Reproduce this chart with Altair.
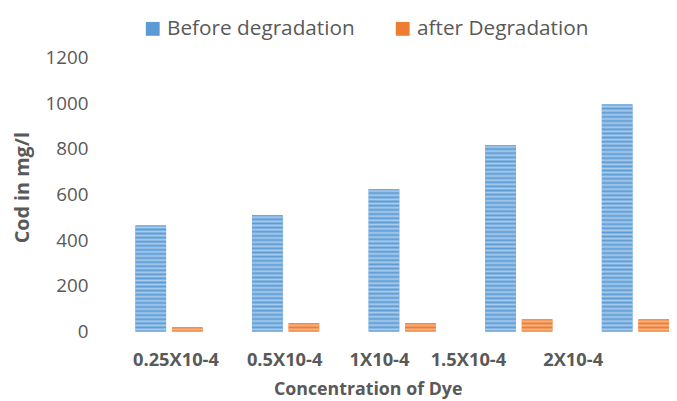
import altair as alt
import pandas as pd

categories = ["0.25X10-4", "0.5X10-4", "1X10-4", "1.5X10-4", "2X10-4"]
series_names = ["Before degradation", "after Degradation"]
before_vals = [465, 510, 625, 818, 995]
after_vals = [18, 36, 36, 53, 53]
label_offsets = [7, -1, -23, -51, -63]

rows = []
for c, b, a in zip(categories, before_vals, after_vals):
    rows.append({"cat": c, "series": series_names[0], "cod": b})
    rows.append({"cat": c, "series": series_names[1], "cod": a})
df = pd.DataFrame(rows)

BLUE, BLUE_L = "#5B9BD5", "#A9CCEC"
ORANGE, ORANGE_L = "#ED7D31", "#F6B488"
FONT = "Open Sans"
GREY = "#595959"
PX_PER_UNIT = 277 / 1200
PERIOD = 4.2


def stripes(dark, light, value):
    n = max(1, round(value * PX_PER_UNIT / PERIOD))
    stops = []
    for k in range(n):
        stops.append({"offset": k / n, "color": dark})
        stops.append({"offset": (k + 0.5) / n, "color": light})
    stops.append({"offset": 1, "color": dark})
    return {"gradient": "linear", "x1": 0, "y1": 0, "x2": 0, "y2": 1, "stops": stops}


offset_cond = [
    {"test": f"datum.value == '{c}'", "value": o}
    for c, o in zip(categories, label_offsets)
]

x_enc = alt.X(
    "cat:N",
    sort=categories,
    scale=alt.Scale(range=[0, 590], paddingInner=0, paddingOuter=0),
    axis=alt.Axis(
        title="Concentration of Dye",
        labelAngle=0,
        labelFont=FONT,
        labelFontSize=18.5,
        labelFontWeight="bold",
        labelColor=GREY,
        labelPadding=19,
        labelOffset={"condition": offset_cond, "value": 0},
        titleFont=FONT,
        titleFontSize=18,
        titleFontWeight="bold",
        titleColor=GREY,
        titleX=260,
        titleY=64,
        titleAlign="center",
        titleBaseline="alphabetic",
    ),
)
xo_enc = alt.XOffset(
    "series:N",
    sort=series_names,
    scale=alt.Scale(paddingInner=0.162, paddingOuter=0.676),
)
y_enc = alt.Y(
    "cod:Q",
    scale=alt.Scale(domain=[0, 1200]),
    axis=alt.Axis(
        title="Cod in mg/l",
        values=[0, 200, 400, 600, 800, 1000, 1200],
        format="d",
        labelFont=FONT,
        labelFontSize=19,
        labelColor=GREY,
        labelPadding=23,
        titleFont=FONT,
        titleFontSize=20,
        titleFontWeight="bold",
        titleColor=GREY,
        titleX=-83,
        titleY=131,
        titleAlign="center",
        titleBaseline="alphabetic",
    ),
)

base = alt.Chart(df).mark_bar().encode(
    x=x_enc,
    xOffset=xo_enc,
    y=y_enc,
    color=alt.Color(
        "series:N",
        sort=series_names,
        scale=alt.Scale(domain=series_names, range=[BLUE, ORANGE]),
        legend=alt.Legend(
            title=None,
            orient="none",
            legendX=32,
            legendY=-40,
            direction="horizontal",
            columns=2,
            columnPadding=38,
            symbolType="square",
            symbolSize=196,
            symbolStrokeWidth=0,
            symbolOpacity=1,
            labelFont=FONT,
            labelFontSize=21,
            labelColor=GREY,
            labelOffset=4,
            labelLimit=0,
            padding=0,
        ),
    ),
)

layers = [base]
for c, b, a in zip(categories, before_vals, after_vals):
    for s, v, d, l in [(series_names[0], b, BLUE, BLUE_L), (series_names[1], a, ORANGE, ORANGE_L)]:
        layers.append(
            alt.Chart(df)
            .transform_filter(f"datum.cat == '{c}' && datum.series == '{s}'")
            .mark_bar(fill=stripes(d, l, v))
            .encode(x=alt.X("cat:N", sort=categories), xOffset=alt.XOffset("series:N", sort=series_names), y="cod:Q")
        )

chart = (
    alt.layer(*layers)
    .properties(
        width=565,
        height=277,
        autosize=alt.AutoSizeParams(type="none"),
        padding={"left": 104, "top": 48, "right": 0, "bottom": 68},
    )
    .configure_view(stroke=None)
    .configure_axis(domain=False, ticks=False, tickSize=0, grid=False)
)

chart.save("out.html", embed_options={"renderer": "svg", "actions": False})
